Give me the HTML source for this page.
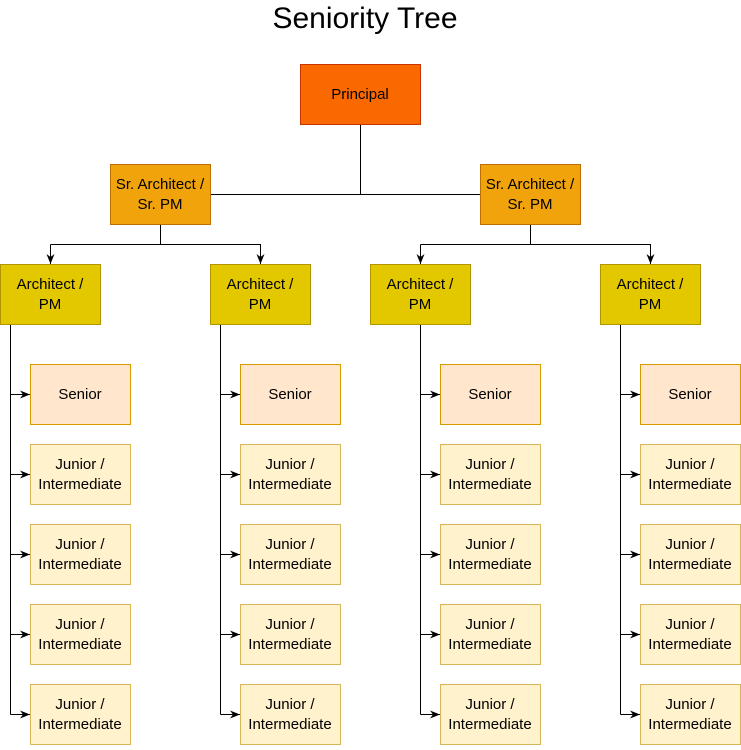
<!DOCTYPE html>
<html><head><meta charset="utf-8"><style>
body{margin:0;background:#fff;width:741px;height:745px;overflow:hidden;font-family:"Liberation Sans",Helvetica,sans-serif}
</style></head><body>
<svg width="741" height="745" viewBox="0 0 741 745" xmlns="http://www.w3.org/2000/svg" font-family="Liberation Sans, Helvetica, sans-serif">
<defs><marker id="ar" viewBox="0 0 10 10" refX="10" refY="5" markerWidth="10" markerHeight="10" orient="auto" markerUnits="userSpaceOnUse"><path d="M0,1 L10,5 L0,9 L3,5 z" fill="#000"/></marker></defs>
<text x="365" y="28" font-size="30" text-anchor="middle">Seniority Tree</text>
<g id="edges" stroke="#000" stroke-width="1" fill="none"></g>
<g id="nodes"></g>
</svg>
<script>
const NS='http://www.w3.org/2000/svg';
const edges=document.getElementById('edges'),nodes=document.getElementById('nodes');
function line(pts,arrow,name){const p=document.createElementNS(NS,'polyline');p.setAttribute('points',pts.map(a=>a.join(',')).join(' '));if(arrow)p.setAttribute('marker-end','url(#ar)');


edges.appendChild(p);}
function box(x,y,w,h,fill,stroke,lines,name){const g=document.createElementNS(NS,'g');


const r=document.createElementNS(NS,'rect');r.setAttribute('x',x+.5);r.setAttribute('y',y+.5);r.setAttribute('width',w);r.setAttribute('height',h);r.setAttribute('fill',fill);r.setAttribute('stroke',stroke);g.appendChild(r);
lines.forEach((t,i)=>{const tx=document.createElementNS(NS,'text');tx.setAttribute('x',x+w/2);tx.setAttribute('y',y+h/2+5+(i-(lines.length-1)/2)*20);tx.setAttribute('text-anchor','middle');tx.setAttribute('font-size','15');tx.textContent=t;g.appendChild(tx);});
nodes.appendChild(g);}
box(300,64,120,60,'#fa6800','#c73500',['Principal'],'principal-node');
line([[360.5,124],[360.5,194.5]],false,'principal-stem');
line([[210,194.5],[480,194.5]],false,'principal-branch');
const srX=[110,480];
const archX=[[0,210],[370,600]];
const lineX=[10.5,220.5,420.5,620.5];
const childX=[30,240,440,640];
const childY=[364,444,524,604,684];
const childLabels=[['Senior'],['Junior /','Intermediate'],['Junior /','Intermediate'],['Junior /','Intermediate'],['Junior /','Intermediate']];
srX.forEach((sx,i)=>{
  box(sx,164,100,60,'#f0a30a','#bd7000',['Sr. Architect /','Sr. PM'],'sr-architect-node-'+(i+1));
  const cx=sx+50.5, a=archX[i];
  const c1=a[0]+50.5,c2=a[1]+50.5;
  line([[cx,224],[cx,244.5]],false,'sr-stem-'+(i+1));
  line([[c1,244.5],[c1,264]],true,'arrow-to-architect-'+(i*2+1));
  line([[c1,244.5],[c2,244.5],[c2,264]],true,'arrow-to-architect-'+(i*2+2));
  a.forEach((ax,j)=>box(ax,264,100,60,'#e3c800','#b09500',['Architect /','PM'],'architect-node-'+(i*2+j+1)));
});
lineX.forEach((lx,k)=>{
  line([[lx,324],[lx,714.5]],false,'architect-trunk-'+(k+1));
  childY.forEach((cy,m)=>{
    line([[lx,cy+30.5],[childX[k],cy+30.5]],true,'arrow-to-child-'+(k+1)+'-'+(m+1));
    const sen=m===0;
    box(childX[k],cy,100,60,sen?'#ffe6cc':'#fff2cc',sen?'#d79b00':'#d6b656',childLabels[m],(sen?'senior-node-':'junior-node-')+(k+1)+'-'+(m+1));
  });
});
</script>
</body></html>
